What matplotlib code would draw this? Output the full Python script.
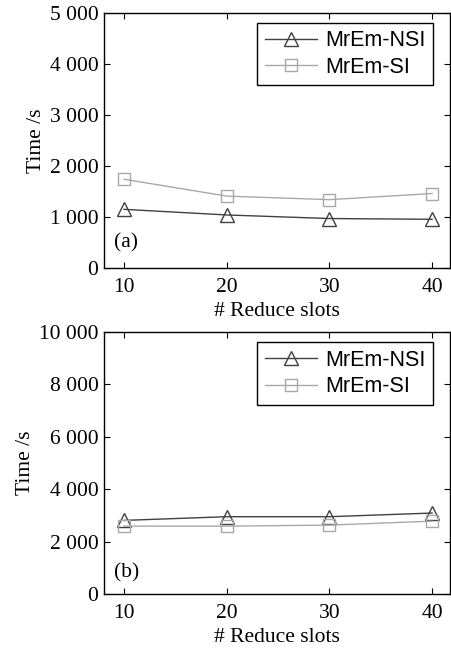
import numpy as np
import matplotlib as mpl
import matplotlib.pyplot as plt
from matplotlib.ticker import FuncFormatter

mpl.rcParams['font.family'] = 'serif'
mpl.rcParams['font.serif'] = ['Liberation Serif', 'DejaVu Serif']

# data
slots = [10, 20, 30, 40]
nsi_a = [1150, 1040, 970, 955]
si_a = [1740, 1410, 1340, 1460]
nsi_b = [2810, 2950, 2950, 3090]
si_b = [2590, 2590, 2630, 2780]

ymax = [5000, 10000]
ystep = [1000, 2000]
tags = ['(a)', '(b)']
tag_y = [0.098, 0.08]

def fmt(v, pos):
    v = int(round(v))
    if v >= 1000:
        return '%d %03d' % (v // 1000, v % 1000)
    return str(v)

fig = plt.figure(figsize=(4.52, 6.48), dpi=100)
boxes = [[104/452, 1 - 268/648, 346/452, 255/648],
         [104/452, 1 - 594/648, 346/452, 262/648]]

for i, (nsi, si) in enumerate([(nsi_a, si_a), (nsi_b, si_b)]):
    ax = fig.add_axes(boxes[i])
    ax.plot(slots, nsi, color='#404040', lw=1.0, marker='^', ms=10,
            mfc='none', mec='#404040', mew=1.0, label='MrEm-NSI')
    ax.plot(slots, si, color='#a8a8a8', lw=1.0, marker='s', ms=9,
            mfc='none', mec='#a8a8a8', mew=1.0, label='MrEm-SI')
    ax.set_xlim(8.05, 41.75)
    ax.set_ylim(0, ymax[i])
    ax.set_xticks(slots)
    ax.set_yticks(np.arange(0, ymax[i] + 1, ystep[i]))
    ax.yaxis.set_major_formatter(FuncFormatter(fmt))
    ax.tick_params(direction='in', top=True, right=True, labelsize=15.5,
                   length=4, width=0.8)
    ax.tick_params(axis='x', pad=7)
    ax.tick_params(axis='y', pad=4)
    for s in ax.spines.values():
        s.set_linewidth(1.0)
    ax.set_xlabel('# Reduce slots', fontsize=15.5, labelpad=4)
    ax.set_ylabel('Time /s', fontsize=15.5, labelpad=3)
    ax.text(0.03, tag_y[i], tags[i], transform=ax.transAxes, fontsize=15.5,
            va='center')
    leg = ax.legend(loc='upper right', prop={'family': 'Liberation Sans', 'size': 15.5},
                    fancybox=False, edgecolor='black', framealpha=1,
                    borderpad=0.35, handlelength=2.4, handletextpad=0.4,
                    labelspacing=0.25, borderaxespad=0,
                    bbox_to_anchor=(0.951, 0.961))
    leg.get_frame().set_linewidth(1.0)

fig.savefig('out.png', dpi=100)
